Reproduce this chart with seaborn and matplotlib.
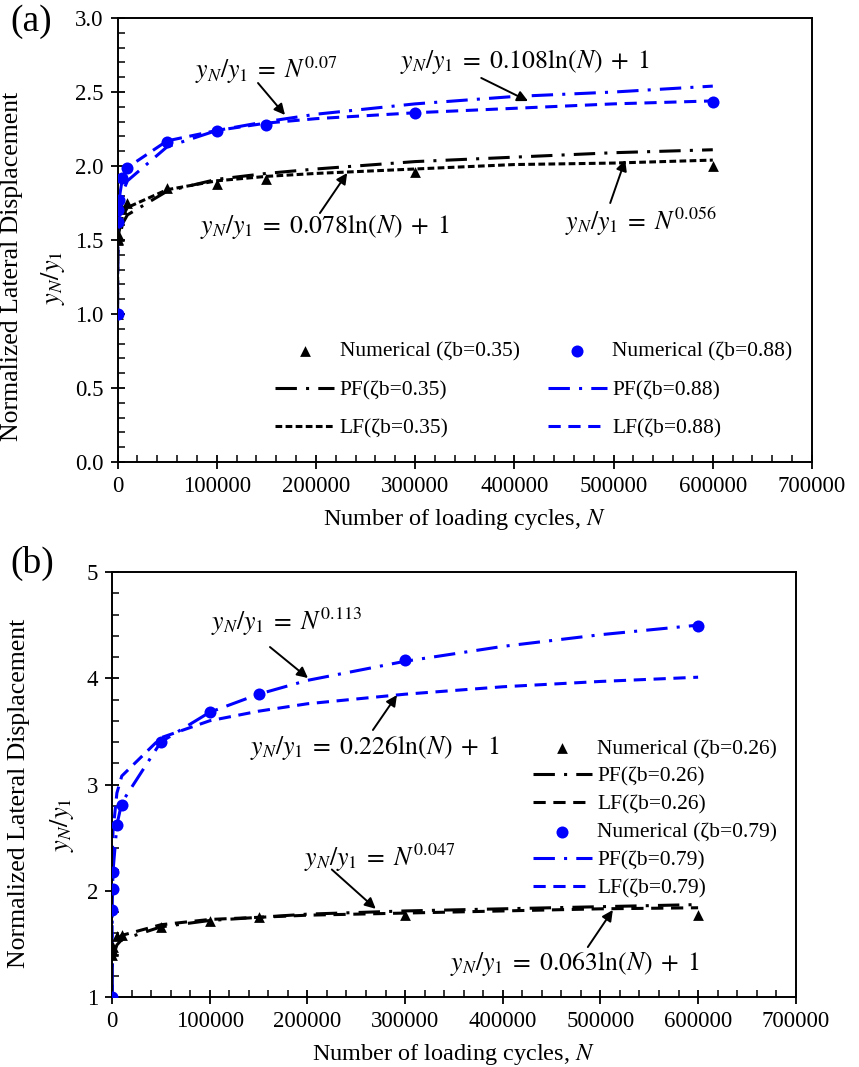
import matplotlib
matplotlib.use("Agg")
import matplotlib.pyplot as plt
import seaborn as sns
from matplotlib.ticker import MultipleLocator

# ---- panel (a) data ----
N_num = [1, 200, 500, 1000, 5000, 10000, 50000, 100000, 150000, 300000, 600000]
a_num_lo = [1.0, 1.50, 1.51, 1.53, 1.71, 1.75, 1.85, 1.88, 1.91, 1.96, 2.00]   # zeta_b = 0.35
a_num_hi = [1.0, 1.62, 1.70, 1.77, 1.92, 1.99, 2.16, 2.24, 2.28, 2.36, 2.43]   # zeta_b = 0.88

N_fit = [1, 200, 500, 1000, 5000, 10000, 50000, 100000, 150000, 200000,
         300000, 400000, 500000, 600000]
a_pf_lo = [1.0, 1.35, 1.42, 1.47, 1.61, 1.67, 1.83, 1.91, 1.95, 1.98, 2.03, 2.06, 2.09, 2.11]
a_lf_lo = [1.0, 1.41, 1.48, 1.54, 1.66, 1.72, 1.84, 1.90, 1.93, 1.95, 1.98, 2.01, 2.02, 2.04]
a_pf_hi = [1.0, 1.45, 1.54, 1.62, 1.82, 1.90, 2.13, 2.24, 2.30, 2.35, 2.42, 2.47, 2.50, 2.54]
a_lf_hi = [1.0, 1.57, 1.67, 1.75, 1.92, 1.99, 2.17, 2.24, 2.29, 2.32, 2.36, 2.39, 2.42, 2.44]

# ---- panel (b) data ----
b_num_lo = [1.0, 1.40, 1.43, 1.47, 1.57, 1.58, 1.66, 1.72, 1.75, 1.77, 1.77]   # zeta_b = 0.26
b_num_hi = [1.0, 1.82, 2.02, 2.18, 2.62, 2.81, 3.40, 3.68, 3.85, 4.17, 4.49]   # zeta_b = 0.79
b_pf_lo = [1.0, 1.28, 1.34, 1.38, 1.49, 1.54, 1.66, 1.72, 1.75, 1.78, 1.81, 1.83, 1.85, 1.87]
b_lf_lo = [1.0, 1.33, 1.39, 1.44, 1.54, 1.58, 1.68, 1.73, 1.75, 1.77, 1.79, 1.81, 1.83, 1.84]
b_pf_hi = [1.0, 1.82, 2.02, 2.18, 2.62, 2.83, 3.40, 3.68, 3.85, 3.98, 4.16, 4.30, 4.41, 4.50]
b_lf_hi = [1.0, 2.20, 2.40, 2.56, 2.92, 3.08, 3.44, 3.60, 3.69, 3.76, 3.85, 3.92, 3.97, 4.01]

sns.set_theme(style="ticks")
plt.rcParams["font.family"] = ["Liberation Serif", "DejaVu Serif"]
plt.rcParams["mathtext.fontset"] = "stix"
for k in ["text.color", "axes.labelcolor", "xtick.color", "ytick.color", "axes.edgecolor"]:
    plt.rcParams[k] = "black"

BLUE = "#0000ff"
PF_LS = (0, (7, 3, 1, 3))
LF_LS = (0, (4, 2.5))
LF_DENSE = (0, (2.2, 1.1))
LW = 2.2

fig = plt.figure(figsize=(8.59, 10.67), dpi=100)
ax_a = fig.add_axes([0.1368, 0.567, 0.8085, 0.4161])
ax_b = fig.add_axes([0.1304, 0.0656, 0.796, 0.3983])


def draw_panel(ax, num_lo, num_hi, pf_lo, lf_lo, pf_hi, lf_hi, zlo, zhi, lf_lo_ls):
    sns.lineplot(x=N_fit, y=pf_lo, ax=ax, color="black", lw=LW, linestyle=PF_LS,
                 sort=False, estimator=None, label=f"PF(ζb={zlo})")
    sns.lineplot(x=N_fit, y=lf_lo, ax=ax, color="black", lw=LW, linestyle=lf_lo_ls,
                 sort=False, estimator=None, label=f"LF(ζb={zlo})")
    sns.lineplot(x=N_fit, y=pf_hi, ax=ax, color=BLUE, lw=LW, linestyle=PF_LS,
                 sort=False, estimator=None, label=f"PF(ζb={zhi})")
    sns.lineplot(x=N_fit, y=lf_hi, ax=ax, color=BLUE, lw=LW, linestyle=LF_LS,
                 sort=False, estimator=None, label=f"LF(ζb={zhi})")
    sns.scatterplot(x=N_num, y=num_lo, ax=ax, marker="^", s=60, color="black",
                    linewidth=0, zorder=3, label=f"Numerical (ζb={zlo})")
    sns.scatterplot(x=N_num, y=num_hi, ax=ax, marker="o", s=75, color=BLUE,
                    linewidth=0, zorder=3, label=f"Numerical (ζb={zhi})")
    order = [f"Numerical (ζb={zlo})", f"PF(ζb={zlo})", f"LF(ζb={zlo})",
             f"Numerical (ζb={zhi})", f"PF(ζb={zhi})", f"LF(ζb={zhi})"]
    h, l = ax.get_legend_handles_labels()
    lookup = dict(zip(l, h))
    ax.set_xlim(0, 700000)
    ax.xaxis.set_major_locator(MultipleLocator(100000))
    ax.xaxis.set_minor_locator(MultipleLocator(20000))
    ax.tick_params(which="major", direction="inout", length=10, width=1.3, labelsize=16.5, pad=5)
    ax.tick_params(which="minor", direction="in", length=5, width=1.1)
    ax.tick_params(axis="y", which="both", left=True, right=False)
    ax.tick_params(axis="x", which="both", bottom=True, top=False)
    for s in ax.spines.values():
        s.set_linewidth(1.4)
        s.set_color("black")
    ax.set_xlabel("Number of loading cycles, $\\mathit{N}$", fontsize=17.5, labelpad=7)
    return [lookup[o] for o in order], order


def arrow(ax, tail, head):
    ax.annotate("", xy=head, xytext=tail,
                arrowprops=dict(arrowstyle="-|>", color="black", lw=1.4, mutation_scale=16,
                                shrinkA=0, shrinkB=0))


EQ = dict(fontsize=18.5, ha="center", va="center")

# ---- (a) ----
h, l = draw_panel(ax_a, a_num_lo, a_num_hi, a_pf_lo, a_lf_lo, a_pf_hi, a_lf_hi,
                  "0.35", "0.88", LF_DENSE)
ax_a.set_ylim(0, 3.0)
ax_a.yaxis.set_major_locator(MultipleLocator(0.5))
ax_a.yaxis.set_minor_locator(MultipleLocator(0.1))
ax_a.yaxis.set_major_formatter("{x:.1f}")
ax_a.legend(h, l, ncol=2, frameon=False, fontsize=15.5, loc="upper left",
            bbox_to_anchor=(0.2268, 0.271), borderaxespad=0, borderpad=0,
            handlelength=2.75, handletextpad=0.25, columnspacing=1.3, labelspacing=0.85)
ax_a.set_ylabel("Normalized Lateral Displacement", fontsize=18.5)
ax_a.yaxis.set_label_coords(-0.136, 0.44)
ax_a.text(-0.093, 0.414, "$y_N/y_\\mathit{1}$", transform=ax_a.transAxes, rotation=90,
          fontsize=19, ha="center", va="center")

ax_a.text(149700, 2.649, "$y_N/y_1\\;=\\;N^{0.07}$", **EQ)
arrow(ax_a, (141600, 2.561), (168800, 2.345))
ax_a.text(410500, 2.703, "$y_N/y_1\\;=\\;0.108\\mathrm{ln}(N)\\;+\\;1$", **EQ)
arrow(ax_a, (366600, 2.595), (413800, 2.439))
ax_a.text(209100, 1.588, "$y_N/y_1\\;=\\;0.078\\mathrm{ln}(N)\\;+\\;1$", **EQ)
arrow(ax_a, (204000, 1.682), (231500, 1.953))
ax_a.text(527700, 1.625, "$y_N/y_1\\;=\\;N^{0.056}$", **EQ)
arrow(ax_a, (496600, 1.750), (511700, 2.041))

# ---- (b) ----
h, l = draw_panel(ax_b, b_num_lo, b_num_hi, b_pf_lo, b_lf_lo, b_pf_hi, b_lf_hi,
                  "0.26", "0.79", LF_LS)
ax_b.set_ylim(1, 5)
ax_b.yaxis.set_major_locator(MultipleLocator(1))
ax_b.yaxis.set_minor_locator(MultipleLocator(0.2))
ax_b.legend(h, l, ncol=1, frameon=False, fontsize=15.5, loc="upper left",
            bbox_to_anchor=(0.6155, 0.607), borderaxespad=0, borderpad=0,
            handlelength=2.75, handletextpad=0.25, labelspacing=0.36)
ax_b.set_ylabel("Normalized Lateral Displacement", fontsize=18.5)
ax_b.yaxis.set_label_coords(-0.12, 0.478)
ax_b.text(-0.073, 0.405, "$y_N/y_\\mathit{1}$", transform=ax_b.transAxes, rotation=90,
          fontsize=19, ha="center", va="center")

ax_b.text(178100, 4.529, "$y_N/y_1\\;=\\;N^{0.113}$", **EQ)
arrow(ax_b, (161700, 4.294), (200600, 4.002))
ax_b.text(269200, 3.353, "$y_N/y_1\\;=\\;0.226\\mathrm{ln}(N)\\;+\\;1$", **EQ)
arrow(ax_b, (267100, 3.513), (291700, 3.842))
ax_b.text(274300, 2.308, "$y_N/y_1\\;=\\;N^{0.047}$", **EQ)
arrow(ax_b, (225000, 2.20), (270000, 1.83))
ax_b.text(473800, 1.32, "$y_N/y_1\\;=\\;0.063\\mathrm{ln}(N)\\;+\\;1$", **EQ)
arrow(ax_b, (487100, 1.47), (512700, 1.819))

fig.text(0.012, 1 - 22 / 1067, "(a)", fontsize=27, va="center", ha="left")
fig.text(0.012, 1 - 563 / 1067, "(b)", fontsize=27, va="center", ha="left")

fig.savefig("out.png", dpi=100)
